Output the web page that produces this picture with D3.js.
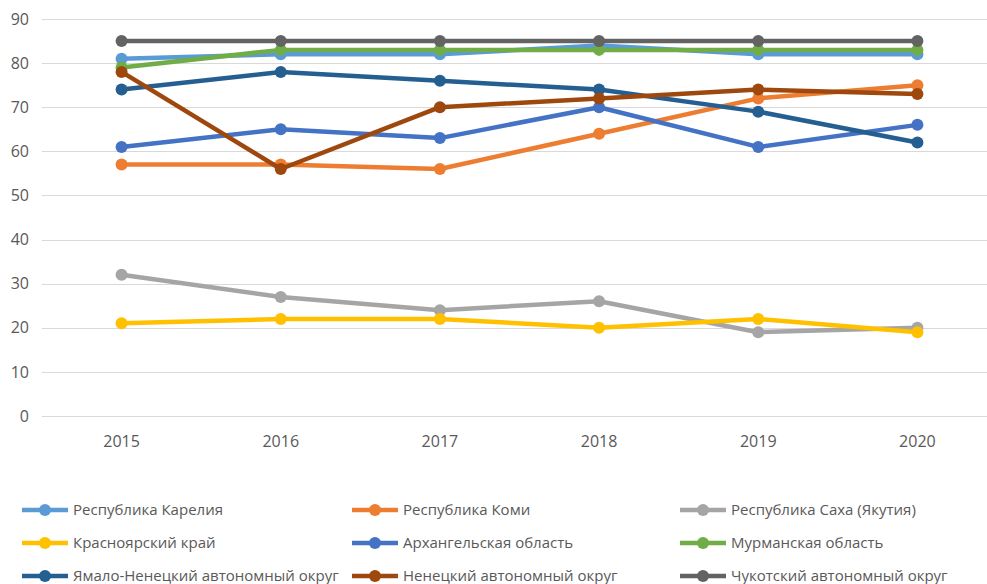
<!DOCTYPE html>
<html>
<head>
<meta charset="utf-8">
<script src="https://cdn.jsdelivr.net/npm/d3@7"></script>
<style>
  body { margin: 0; background: #fff; }
  text { font-family: "Open Sans", "Noto Sans", sans-serif; fill: #595959; }
</style>
</head>
<body>
<div id="chart-area"></div>
<script>
var width = 987, height = 584;

// data
var years = ["2015", "2016", "2017", "2018", "2019", "2020"];
var yTicks = [0, 10, 20, 30, 40, 50, 60, 70, 80, 90];
var regions = [
    "Республика Карелия", "Республика Коми", "Республика Саха (Якутия)",
    "Красноярский край", "Архангельская область", "Мурманская область",
    "Ямало-Ненецкий автономный округ", "Ненецкий автономный округ", "Чукотский автономный округ"
];
var karelia = [81, 82, 82, 84, 82, 82];
var komi = [57, 57, 56, 64, 72, 75];
var sakha = [32, 27, 24, 26, 19, 20];
var krasnoyarsk = [21, 22, 22, 20, 22, 19];
var arkhangelsk = [61, 65, 63, 70, 61, 66];
var murmansk = [79, 83, 83, 83, 83, 83];
var yamal = [74, 78, 76, 74, 69, 62];
var nenets = [78, 56, 70, 72, 74, 73];
var chukotka = [85, 85, 85, 85, 85, 85];
var seriesValues = [karelia, komi, sakha, krasnoyarsk, arkhangelsk, murmansk, yamal, nenets, chukotka];
var colors = ["#5B9BD5", "#ED7D31", "#A5A5A5", "#FFC000", "#4472C4", "#70AD47", "#255E91", "#9E480E", "#636363"];

var series = regions.map(function(name, i) {
    return { name: name, color: colors[i], values: seriesValues[i] };
});

var svg = d3.select("#chart-area")
    .append("svg")
        .attr("width", width)
        .attr("height", height);

// scales
var x = d3.scaleBand()
    .domain(years)
    .range([42, 997]);
var y = d3.scaleLinear()
    .domain([0, 90])
    .range([416, 19]);

// gridlines
svg.append("g")
    .selectAll("line")
    .data(yTicks)
    .enter().append("line")
        .attr("x1", 42)
        .attr("x2", width)
        .attr("y1", function(d) { return Math.round(y(d)) + 0.5; })
        .attr("y2", function(d) { return Math.round(y(d)) + 0.5; })
        .attr("stroke", "#d9d9d9")
        .attr("stroke-width", 1);

// Y Axis labels
var yAxisCall = d3.axisLeft(y).tickValues(yTicks).tickSize(0).tickPadding(0);
var yAxis = svg.append("g")
    .attr("transform", "translate(29,0)")
    .call(yAxisCall);
yAxis.select(".domain").remove();
yAxis.selectAll("text")
    .attr("font-size", "16px")
    .attr("font-family", null)
    .attr("fill", "#595959");

// X Axis labels
var xAxisCall = d3.axisBottom(x).tickSize(0).tickPadding(0);
var xAxis = svg.append("g")
    .attr("transform", "translate(0,436)")
    .call(xAxisCall);
xAxis.select(".domain").remove();
xAxis.selectAll("text")
    .attr("font-size", "16px")
    .attr("font-family", null)
    .attr("fill", "#595959");

// lines
var line = d3.line()
    .x(function(d, i) { return x(years[i]) + x.bandwidth() / 2; })
    .y(function(d) { return y(d); });

var groups = svg.append("g")
    .selectAll("g")
    .data(series)
    .enter().append("g");

groups.append("path")
    .attr("d", function(d) { return line(d.values); })
    .attr("fill", "none")
    .attr("stroke", function(d) { return d.color; })
    .attr("stroke-width", 4.5)
    .attr("stroke-linejoin", "round");

groups.selectAll("circle")
    .data(function(d) { return d.values.map(function(v, i) { return { v: v, i: i, color: d.color }; }); })
    .enter().append("circle")
        .attr("cx", function(d) { return x(years[d.i]) + x.bandwidth() / 2; })
        .attr("cy", function(d) { return y(d.v); })
        .attr("r", 6)
        .attr("fill", function(d) { return d.color; });

// legend
var colX = [22, 352, 680];
var rowY = [510, 543, 576];
var legend = svg.append("g")
    .selectAll("g")
    .data(series)
    .enter().append("g")
        .attr("transform", function(d, i) {
            return "translate(" + colX[i % 3] + "," + rowY[Math.floor(i / 3)] + ")";
        });

legend.append("line")
    .attr("x1", 0)
    .attr("x2", 46)
    .attr("stroke", function(d) { return d.color; })
    .attr("stroke-width", 4.5);
legend.append("circle")
    .attr("cx", 23)
    .attr("r", 6)
    .attr("fill", function(d) { return d.color; });
legend.append("text")
    .attr("x", 51)
    .attr("dy", "0.35em")
    .attr("font-size", "15px")
    .text(function(d) { return d.name; });
</script>
</body>
</html>
